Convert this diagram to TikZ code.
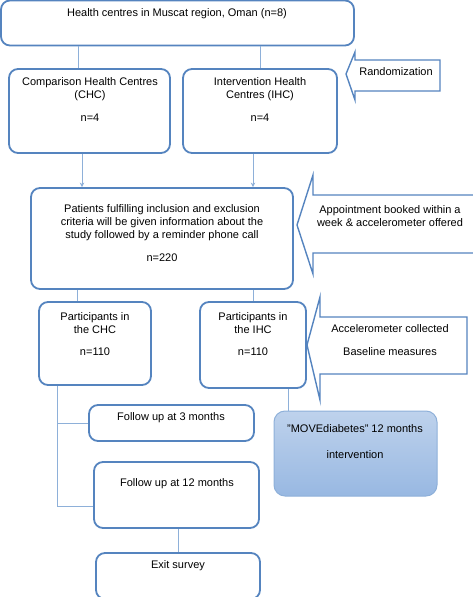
\documentclass[tikz,border=0pt]{standalone}
\usepackage{fontspec}
\setmainfont{Liberation Sans}
\usetikzlibrary{arrows.meta}
\definecolor{bord}{HTML}{5584BF}
\definecolor{conn}{HTML}{8EB0D9}
\definecolor{moveA}{HTML}{BED2EC}
\definecolor{moveB}{HTML}{98B8E2}
\tikzset{
  box/.style={draw=bord, line width=1.8pt, rounded corners=9pt, fill=white, inner sep=0pt},
  movebox/.style={draw=conn, line width=1pt, rounded corners=11pt, top color=moveA, bottom color=moveB, inner sep=0pt},
  txt/.style={font=\fontsize{11}{13}\selectfont, align=center, inner sep=0pt, text=black},
  conline/.style={draw=conn, line width=1pt},
  conarrow/.style={draw=conn, line width=1pt, -{Stealth[length=4.5pt,width=4.5pt]}},
  callout/.style={draw=bord, line width=1.4pt, fill=white, line join=miter}
}
\begin{document}
\begin{tikzpicture}[x=1pt,y=-1pt]
\useasboundingbox (0,0) rectangle (473,597);
% boxes
\node[box, minimum width=353pt, minimum height=45pt] (top) at (177.5,23) {};
\node[box, minimum width=161pt, minimum height=84pt] (chc) at (89.5,111) {};
\node[box, minimum width=154pt, minimum height=84pt] (ihc) at (260,111) {};
\node[box, minimum width=262pt, minimum height=101pt] (pat) at (162,238.5) {};
\node[box, minimum width=112pt, minimum height=83pt] (pchc) at (95,343.5) {};
\node[box, minimum width=106pt, minimum height=86pt] (pihc) at (253,345) {};
\node[box, minimum width=165pt, minimum height=36pt] (f3) at (171.5,423) {};
\node[box, minimum width=165pt, minimum height=66pt] (f12) at (176.5,495) {};
\node[box, minimum width=164pt, minimum height=46pt] (exit) at (178,576) {};
\node[movebox, minimum width=163pt, minimum height=85pt] (move) at (355.5,453.5) {};
% texts
\node[txt] (ttop) at (177,14) {Health centres in Muscat region, Oman (n=8)};
\node[txt] (tchc) at (90,89.5) {Comparison Health Centres\\(CHC)};
\node[txt] (nchc) at (90,118) {n=4};
\node[txt] (tihc) at (260,89.5) {Intervention Health\\Centres (IHC)};
\node[txt] (nihc) at (260,118) {n=4};
\node[txt] (tpat) at (162,223) {Patients fulfilling inclusion and exclusion\\criteria will be given information about the\\study followed by a reminder phone call};
\node[txt] (npat) at (162,258) {n=220};
\node[txt] (tpchc) at (95,323.5) {Participants in\\the CHC};
\node[txt] (npchc) at (95,352) {n=110};
\node[txt] (tpihc) at (253,323) {Participants in\\the IHC};
\node[txt] (npihc) at (253,352) {n=110};
\node[txt] (tf3) at (171,418) {Follow up at 3 months};
\node[txt] (tf12) at (177,484) {Follow up at 12 months};
\node[txt] (texit) at (178,566) {Exit survey};
\node[txt] (tmove1) at (355,429) {"MOVEdiabetes" 12 months};
\node[txt] (tmove2) at (355,455) {intervention};
% callout arrows
\draw[callout] (346,74) -- (355,52) -- (355,60) -- (440,60) -- (440,91) -- (355,91) -- (355,100) -- cycle;
\node[txt] (trand) at (396,72) {Randomization};
\draw[callout] (297,225) -- (313,175) -- (313,195) -- (475,195) -- (475,253) -- (313,253) -- (313,274) -- cycle;
\node[txt] (tapp) at (390,216) {Appointment booked within a\\week \& accelerometer offered};
\draw[callout] (307,345) -- (320,297) -- (320,317) -- (467,317) -- (467,374) -- (320,374) -- (320,400) -- cycle;
\node[txt] (tacc1) at (390,329) {Accelerometer collected};
\node[txt] (tacc2) at (390,352) {Baseline measures};
% connectors
\draw[conline] (78,0 |- top.south) -- (78,0 |- chc.north);
\draw[conline] (260,0 |- top.south) -- (260,0 |- ihc.north);
\draw[conarrow] (82,0 |- chc.south) -- (82,0 |- pat.north);
\draw[conarrow] (253,0 |- ihc.south) -- (253,0 |- pat.north);
\draw[conline] (77,0 |- pat.south) -- (77,0 |- pchc.north);
\draw[conline] (253,0 |- pat.south) -- (253,0 |- pihc.north);
\draw[conline] (57,0 |- pchc.south) -- (57,423) -- (f3.west);
\draw[conline] (57,423) -- (57,506) -- (f12.west |- 0,506);
\draw[conline] (178,0 |- f12.south) -- (178,0 |- exit.north);
\draw[conline] (288,0 |- pihc.south) -- (288,0 |- move.north);
\end{tikzpicture}
\end{document}
